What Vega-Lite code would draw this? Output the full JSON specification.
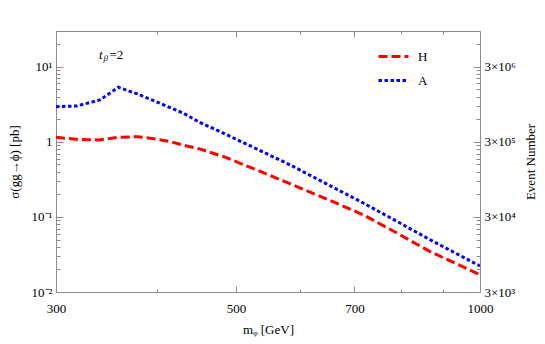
{
  "$schema": "https://vega.github.io/schema/vega-lite/v6.json",
  "width": 424,
  "height": 261,
  "autosize": {"type": "none"},
  "padding": {"left": 56, "top": 31, "right": 65, "bottom": 52},
  "background": "white",
  "config": {
    "view": {"stroke": null},
    "axis": {
      "grid": false,
      "domainColor": "#8c8c8c",
      "tickColor": "#8c8c8c",
      "labelFont": "Liberation Serif",
      "labelFontSize": 13,
      "labelColor": "black",
      "titleFont": "Liberation Serif",
      "titleFontSize": 13,
      "titleFontWeight": "normal",
      "titleColor": "black",
      "labelFlush": false,
      "labelOverlap": false
    },
    "legend": {
      "orient": "none",
      "legendX": 321,
      "legendY": 9,
      "symbolType": "stroke",
      "symbolSize": 900,
      "symbolStrokeWidth": 3,
      "labelFont": "Liberation Serif",
      "labelFontSize": 13,
      "labelColor": "black",
      "labelOffset": 8,
      "rowPadding": -2
    }
  },
  "datasets": {
    "curves": [
      {"m": 300, "sigma": 1.15, "series": "H"},
      {"m": 318, "sigma": 1.08, "series": "H"},
      {"m": 339, "sigma": 1.06, "series": "H"},
      {"m": 357, "sigma": 1.15, "series": "H"},
      {"m": 378, "sigma": 1.17, "series": "H"},
      {"m": 392, "sigma": 1.12, "series": "H"},
      {"m": 415, "sigma": 1.01, "series": "H"},
      {"m": 435, "sigma": 0.88, "series": "H"},
      {"m": 452, "sigma": 0.80, "series": "H"},
      {"m": 483, "sigma": 0.635, "series": "H"},
      {"m": 531, "sigma": 0.42, "series": "H"},
      {"m": 584, "sigma": 0.275, "series": "H"},
      {"m": 654, "sigma": 0.165, "series": "H"},
      {"m": 719, "sigma": 0.106, "series": "H"},
      {"m": 791, "sigma": 0.0605, "series": "H"},
      {"m": 869, "sigma": 0.0343, "series": "H"},
      {"m": 1000, "sigma": 0.017, "series": "H"},
      {"m": 300, "sigma": 2.94, "series": "A"},
      {"m": 318, "sigma": 3.01, "series": "A"},
      {"m": 340, "sigma": 3.62, "series": "A"},
      {"m": 358, "sigma": 5.34, "series": "A"},
      {"m": 378, "sigma": 4.35, "series": "A"},
      {"m": 403, "sigma": 3.27, "series": "A"},
      {"m": 431, "sigma": 2.40, "series": "A"},
      {"m": 452, "sigma": 1.80, "series": "A"},
      {"m": 483, "sigma": 1.30, "series": "A"},
      {"m": 531, "sigma": 0.80, "series": "A"},
      {"m": 584, "sigma": 0.49, "series": "A"},
      {"m": 654, "sigma": 0.259, "series": "A"},
      {"m": 719, "sigma": 0.152, "series": "A"},
      {"m": 791, "sigma": 0.0865, "series": "A"},
      {"m": 869, "sigma": 0.0493, "series": "A"},
      {"m": 1000, "sigma": 0.0222, "series": "A"}
    ],
    "events": [
      {"m": 300, "events": 3000},
      {"m": 1000, "events": 9000000}
    ],
    "note": [
      {"m": 339, "sigma": 14.4}
    ]
  },
  "layer": [
    {
      "encoding": {
        "x": {
          "field": "m",
          "type": "quantitative",
          "scale": {"type": "log", "domain": [300, 1000], "nice": false},
          "axis": {
            "orient": "bottom",
            "title": "mᵩ [GeV]",
            "titlePadding": 5,
            "values": [300, 400, 500, 600, 700, 800, 900, 1000],
            "labelExpr": "indexof([300,500,700,1000], datum.value) >= 0 ? format(datum.value, 'd') : ''",
            "tickSize": {"condition": {"test": "indexof([300,500,700,1000], datum.value) >= 0", "value": -6}, "value": -3},
            "labelPadding": 16
          }
        },
        "y": {
          "field": "sigma",
          "type": "quantitative",
          "scale": {"type": "log", "domain": [0.01, 30], "nice": false},
          "axis": {
            "orient": "left",
            "title": "σ(gg→ϕ) [pb]",
            "titlePadding": 10,
            "values": [0.01, 0.02, 0.03, 0.04, 0.05, 0.06, 0.07, 0.08, 0.09, 0.1, 0.2, 0.3, 0.4, 0.5, 0.6, 0.7, 0.8, 0.9, 1, 2, 3, 4, 5, 6, 7, 8, 9, 10, 20],
            "labelExpr": "datum.value == 0.01 ? '10⁻²' : datum.value == 0.1 ? '10⁻¹' : datum.value == 1 ? '1' : datum.value == 10 ? '10¹' : ''",
            "tickSize": {"condition": {"test": "indexof([0.01,0.1,1,10], datum.value) >= 0", "value": -7}, "value": -4},
            "labelPadding": 11
          }
        }
      },
      "layer": [
        {
          "data": {"name": "curves"},
          "mark": {"type": "line", "strokeWidth": 3, "strokeCap": "butt", "clip": true},
          "encoding": {
            "color": {
              "field": "series",
              "type": "nominal",
              "scale": {"domain": ["H", "A"], "range": ["#ff0000", "#0000ff"]},
              "legend": {"title": null}
            },
            "strokeDash": {
              "field": "series",
              "type": "nominal",
              "scale": {"domain": ["H", "A"], "range": [[9, 4], [3.5, 2.5]]},
              "legend": {"title": null}
            }
          }
        },
        {
          "data": {"name": "note"},
          "mark": {"type": "text", "text": "t", "align": "left", "baseline": "middle", "font": "Liberation Serif", "fontSize": 13, "fontStyle": "italic", "color": "black"},
          "encoding": {}
        },
        {
          "data": {"name": "note"},
          "mark": {"type": "text", "text": "β", "align": "left", "baseline": "middle", "dx": 4.5, "dy": 3.5, "font": "Liberation Serif", "fontSize": 9, "fontStyle": "italic", "color": "black"},
          "encoding": {}
        },
        {
          "data": {"name": "note"},
          "mark": {"type": "text", "text": "=2", "align": "left", "baseline": "middle", "dx": 10.5, "font": "Liberation Serif", "fontSize": 13, "color": "black"},
          "encoding": {}
        }
      ]
    },
    {
      "data": {"name": "events"},
      "mark": {"type": "point", "opacity": 0},
      "encoding": {
        "x": {
          "field": "m",
          "type": "quantitative",
          "axis": {
            "orient": "top",
            "title": null,
            "labels": false,
            "values": [300, 400, 500, 600, 700, 800, 900, 1000],
            "tickSize": {"condition": {"test": "indexof([300,500,700,1000], datum.value) >= 0", "value": -6}, "value": -3}
          }
        },
        "y": {
          "field": "events",
          "type": "quantitative",
          "scale": {"type": "log", "domain": [3000, 9000000], "nice": false},
          "axis": {
            "orient": "right",
            "title": "Event Number",
            "titleAngle": 270,
            "titlePadding": 22,
            "values": [3000, 6000, 9000, 12000, 15000, 18000, 21000, 24000, 27000, 30000, 60000, 90000, 120000, 150000, 180000, 210000, 240000, 270000, 300000, 600000, 900000, 1200000, 1500000, 1800000, 2100000, 2400000, 2700000, 3000000, 6000000],
            "labelExpr": "datum.value == 3000 ? '3×10³' : datum.value == 30000 ? '3×10⁴' : datum.value == 300000 ? '3×10⁵' : datum.value == 3000000 ? '3×10⁶' : ''",
            "tickSize": {"condition": {"test": "indexof([3000,30000,300000,3000000], datum.value) >= 0", "value": -7}, "value": -4},
            "labelPadding": 11
          }
        }
      }
    }
  ],
  "resolve": {"scale": {"y": "independent"}, "axis": {"x": "independent"}}
}
